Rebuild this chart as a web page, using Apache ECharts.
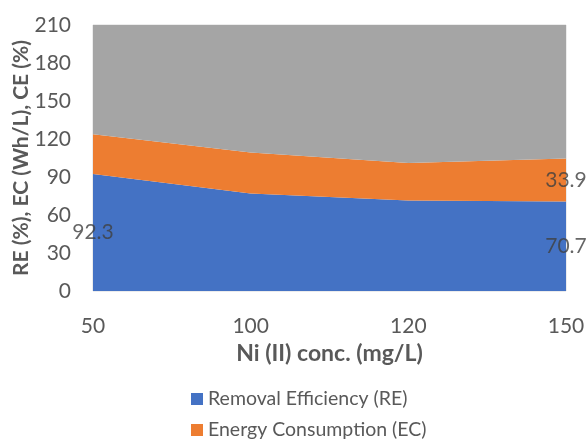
<!DOCTYPE html>
<html>
<head>
<meta charset="utf-8">
<script src="https://cdn.jsdelivr.net/npm/echarts@6/dist/echarts.min.js"></script>
<style>
  html, body { margin: 0; padding: 0; background: #fff; }
  #chart { width: 588px; height: 439px; }
</style>
</head>
<body>
<div id="chart"></div>
<script>
// Ni (II) concentration levels (mg/L)
const categories = ['50', '100', '120', '150'];
// Removal efficiency (%)
const reValues = [92.3, 77.0, 71.5, 70.7];
// Energy consumption (Wh/L)
const ecValues = [31.4, 32.3, 29.5, 33.9];
// Current efficiency (%)
const ceValues = [90.0, 102.0, 112.0, 108.0];
// Y axis tick range
const yTicks = { min: 0, max: 210, interval: 30 };

const seriesNames = ['Removal Efficiency (RE)', 'Energy Consumption (EC)', 'Current Efficiency (CE)'];
const seriesColors = ['#4472C4', '#ED7D31', '#A5A5A5'];

const FONT = 'Lato';
const TEXT = '#595959';

// Labelled points: {series index, point index}; label sits mid-height of its band
const labelled = [
  { s: 0, i: 0 },
  { s: 0, i: 3 },
  { s: 1, i: 3 }
];
const stacks = [reValues, ecValues, ceValues];
function bandMid(s, i) {
  let base = 0;
  for (let k = 0; k < s; k++) base += stacks[k][i];
  return base + stacks[s][i] / 2;
}
const labelData = labelled.map(p => ({
  value: [categories[p.i], bandMid(p.s, p.i)],
  shown: stacks[p.s][p.i]
}));

function areaSeries(k) {
  return {
    name: seriesNames[k],
    type: 'line',
    stack: 'total',
    data: stacks[k],
    symbol: 'none',
    lineStyle: { width: 0 },
    itemStyle: { color: seriesColors[k] },
    areaStyle: { color: seriesColors[k], opacity: 1 },
    emphasis: { disabled: true },
    z: 2
  };
}

// One legend row per series, stacked downwards (the last row falls below the canvas)
const legends = seriesNames.map((name, k) => ({
  orient: 'horizontal',
  left: 186, top: 384 + k * 31,
  itemWidth: 12, itemHeight: 12,
  icon: 'rect',
  textStyle: { fontFamily: FONT, fontSize: 19.5, color: TEXT },
  data: [name]
}));

const chart = echarts.init(document.getElementById('chart'));
chart.setOption({
  animation: false,
  textStyle: { fontFamily: FONT },
  grid: {
    left: 93, right: 22, top: 25, bottom: 148,
    outerBoundsMode: 'none',
    containLabel: false,
    show: true, borderColor: '#d9d9d9', borderWidth: 1, backgroundColor: 'transparent'
  },
  legend: legends,
  xAxis: {
    type: 'category',
    data: categories,
    boundaryGap: false,
    name: 'Ni (II) conc. (mg/L)',
    nameLocation: 'middle',
    nameGap: 51,
    nameMoveOverlap: false,
    nameTextStyle: { fontFamily: FONT, fontSize: 23, fontWeight: 'bold', color: TEXT },
    axisLine: { show: false },
    axisTick: { show: false },
    axisLabel: { fontFamily: FONT, fontSize: 21, color: TEXT, margin: 25 },
    splitLine: { show: false }
  },
  yAxis: {
    type: 'value',
    min: yTicks.min, max: yTicks.max, interval: yTicks.interval,
    name: 'RE (%), EC (Wh/L), CE (%)',
    nameLocation: 'middle',
    nameGap: 61,
    nameMoveOverlap: false,
    nameTextStyle: { fontFamily: FONT, fontSize: 21, fontWeight: 'bold', color: TEXT },
    axisLine: { show: false },
    axisTick: { show: false },
    axisLabel: { fontFamily: FONT, fontSize: 21, color: TEXT, margin: 22 },
    splitLine: { show: false }
  },
  series: [
    areaSeries(0),
    areaSeries(1),
    areaSeries(2),
    {
      type: 'scatter',
      data: labelData,
      symbolSize: 0,
      silent: true,
      z: 5,
      label: {
        show: true,
        position: 'inside',
        fontFamily: FONT,
        fontSize: 21,
        color: '#404040',
        formatter: p => p.data.shown.toFixed(1)
      }
    }
  ]
});
</script>
</body>
</html>
